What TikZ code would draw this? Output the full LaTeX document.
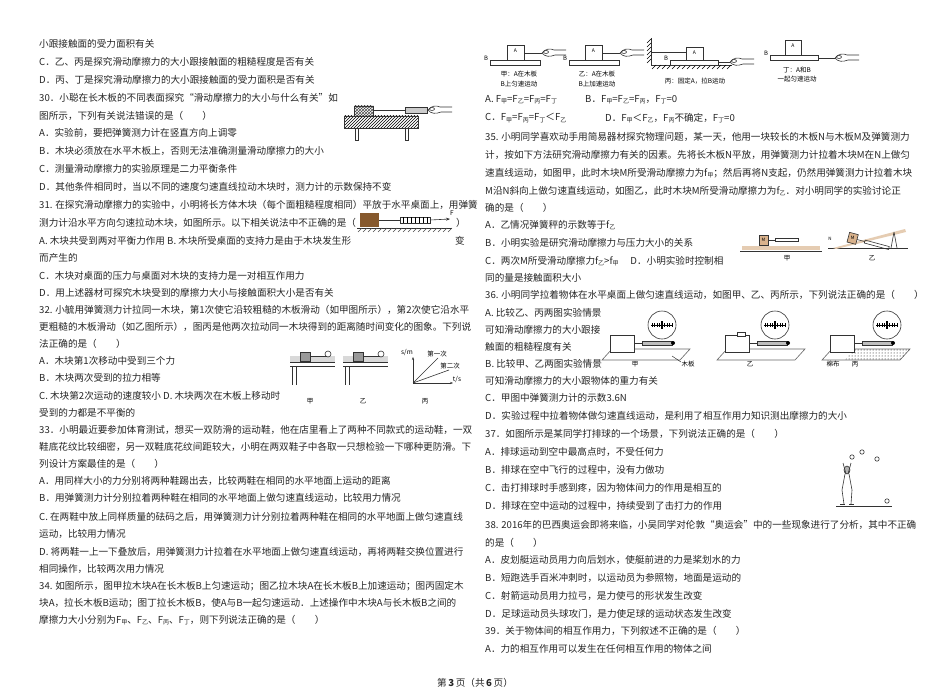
\documentclass[tikz,border=0pt]{standalone}
\usepackage{fontspec}
\setmainfont{Noto Sans CJK SC}
\usetikzlibrary{patterns,arrows.meta}
\newcommand\xs[1]{\raisebox{-0.25ex}{\fontsize{6}{6}\selectfont #1}}
\newcommand\Ln[3]{\node[tx] at (#1,#2) {#3};}
\tikzset{tx/.style={anchor=west,inner sep=0pt,font=\fontsize{9.6}{11}\selectfont,text=black!85},
 capt/.style={inner sep=0pt,font=\fontsize{6.5}{7}\selectfont},
 ln/.style={line width=0.6pt,black!80}}
\newcommand\hand[2]{\begin{scope}[shift={(#1,#2)},ln]
\draw (0,0) .. controls (3,-4) and (8,-5) .. (12,-3) -- (24,-3);
\draw (0,0) .. controls (3,4) and (8,4) .. (13,2) -- (24,2);
\draw (4,-1) ellipse (2.5 and 1.5);\end{scope}}
\begin{document}
\begin{tikzpicture}[x=1pt,y=-1pt]
\fill[white] (0,0) rectangle (950,698);
\useasboundingbox (0,0) rectangle (950,698);
% ---------- left column
\Ln{39}{44}{小跟接触面的受力面积有关}
\Ln{39}{62}{C．乙、丙是探究滑动摩擦力的大小跟接触面的粗糙程度是否有关}
\Ln{39}{80}{D．丙、丁是探究滑动摩擦力的大小跟接触面的受力面积是否有关}
\Ln{39}{98}{30．小聪在长木板的不同表面探究“滑动摩擦力的大小与什么有关”如}
\Ln{39}{116}{图所示，下列有关说法错误的是（　　）}
\Ln{39}{133}{A．实验前，要把弹簧测力计在竖直方向上调零}
\Ln{39}{151}{B．木块必须放在水平木板上，否则无法准确测量滑动摩擦力的大小}
\Ln{39}{169}{C．测量滑动摩擦力的实验原理是二力平衡条件}
\Ln{39}{187}{D．其他条件相同时，当以不同的速度匀速直线拉动木块时，测力计的示数保持不变}
\Ln{39}{205}{31. 在探究滑动摩擦力的实验中，小明将长方体木块（每个面粗糙程度相同）平放于水平桌面上，用弹簧}
\Ln{39}{223}{测力计沿水平方向匀速拉动木块，如图所示。以下相关说法中不正确的是（}
\Ln{456}{223}{）}
\Ln{39}{241}{A. 木块共受到两对平衡力作用 B. 木块所受桌面的支持力是由于木块发生形}
\Ln{455}{241}{变}
\Ln{39}{258}{而产生的}
\Ln{39}{276}{C．木块对桌面的压力与桌面对木块的支持力是一对相互作用力}
\Ln{39}{293}{D．用上述器材可探究木块受到的摩擦力大小与接触面积大小是否有关}
\Ln{39}{310}{32. 小毓用弹簧测力计拉同一木块，第1次使它沿较粗糙的木板滑动（如甲图所示），第2次使它沿水平}
\Ln{39}{327}{更粗糙的木板滑动（如乙图所示），图丙是他两次拉动同一木块得到的距离随时间变化的图象。下列说}
\Ln{39}{344}{法正确的是（　　）}
\Ln{39}{361}{A．木块第1次移动中受到三个力}
\Ln{39}{378}{B．木块两次受到的拉力相等}
\Ln{39}{396}{C. 木块第2次运动的速度较小 D. 木块两次在木板上移动时}
\Ln{39}{413}{受到的力都是不平衡的}
\Ln{39}{430}{33．小明最近要参加体育测试，想买一双防滑的运动鞋，他在店里看上了两种不同款式的运动鞋，一双}
\Ln{39}{447}{鞋底花纹比较细密，另一双鞋底花纹间距较大，小明在两双鞋子中各取一只想检验一下哪种更防滑。下}
\Ln{39}{464}{列设计方案最佳的是（　　）}
\Ln{39}{481}{A．用同样大小的力分别将两种鞋踢出去，比较两鞋在相同的水平地面上运动的距离}
\Ln{39}{498}{B．用弹簧测力计分别拉着两种鞋在相同的水平地面上做匀速直线运动，比较用力情况}
\Ln{39}{517}{C. 在两鞋中放上同样质量的砝码之后，用弹簧测力计分别拉着两种鞋在相同的水平地面上做匀速直线}
\Ln{39}{534}{运动，比较用力情况}
\Ln{39}{552}{D. 将两鞋一上一下叠放后，用弹簧测力计拉着在水平地面上做匀速直线运动，再将两鞋交换位置进行}
\Ln{39}{569}{相同操作，比较两次用力情况}
\Ln{39}{586}{34. 如图所示，图甲拉木块A在长木板B上匀速运动；图乙拉木块A在长木板B上加速运动；图丙固定木}
\Ln{39}{603}{块A，拉长木板B运动；图丁拉长木板B，使A与B一起匀速运动．上述操作中木块A与长木板B之间的}
\Ln{39}{620}{摩擦力大小分别为F\xs{甲}、F\xs{乙}、F\xs{丙}、F\xs{丁}，则下列说法正确的是（　　）}
% footer
\node[tx,anchor=center] (foot) at (475,683) {第\,\textbf{3}\,页（共\,\textbf{6}\,页）};
% ---------- fig 30
\fill[pattern=north east lines] (344,116) rectangle (418,128);
\draw[ln] (344,116) rectangle (418,128);
\fill[pattern=crosshatch,pattern color=black!70] (354,106) rectangle (373,116);
\draw[ln] (354,106) rectangle (373,116);
\draw[ln] (355,128) rectangle (358,140) (405,128) rectangle (408,140);
\draw[ln] (373,110) -- (405,110);
\draw[ln,fill=black!20] (405,107) rectangle (427,113);
\hand{428}{110}
% ---------- fig 31
\fill[brown!70!black] (360,213) rectangle (379,227);
\draw[ln] (357,228) -- (452,228);
\foreach \i in {0,...,18} \draw[black!70,line width=0.4pt] (358+5*\i,232) -- (362+5*\i,228);
\draw[ln] (379,220) -- (400,220);
\draw[ln] (400,217) rectangle (430,223);
\foreach \i in {0,...,6} \draw[line width=0.3pt] (403+4*\i,217) -- (403+4*\i,223);
\draw[ln,-{Stealth[length=4pt]}] (430,220) -- (450,219);
\node[capt,font=\itshape\fontsize{6.5}{7}\selectfont] (F31) at (452,213) {F};
% ---------- fig 32
\foreach \x/\t in {290/甲,343/乙}{
 \fill[black!15] (\x,356) rectangle (\x+45,362);
 \draw[ln] (\x,362) -- (\x+45,362) (\x,366) -- (\x+45,366) (\x+2,366) -- (\x+2,385) (\x+6,366) -- (\x+6,385);
 \draw[ln,fill=black!40] (\x+10,352) rectangle (\x+20,361);
 \draw[ln] (\x+20,356) -- (\x+37,356);
 \draw[ln] (\x+38,354) circle (3);
 \node[capt] at (\x+20,401) {\t};}
\draw[ln,-{Stealth[length=3pt]}] (413,383) -- (413,357);
\draw[ln,-{Stealth[length=3pt]}] (413,383) -- (453,383);
\draw[ln] (413,383) -- (438,358) (413,383) -- (449,370);
\node[capt] at (407,352) {s/m};
\node[capt] at (437,354) {第一次};
\node[capt] at (450,366) {第二次};
\node[capt] at (457,379) {t/s};
\node[capt] at (425,401) {丙};
% ---------- right column figures 34
\foreach \bx/\ax/\lab/\la/\lb in {490/507/甲/\textit{A}在木板/\textit{B}上匀速运动, 569/585/乙/\textit{A}在木板/\textit{B}上加速运动}{
 \draw[ln] (\bx,60) rectangle (\bx+50,65);
 \draw[ln] (\ax,45) rectangle (\ax+17,60);
 \node[capt,font=\itshape\fontsize{5}{5}\selectfont] at (\ax+8.5,51) {A};
 \node[capt,font=\itshape\fontsize{6}{6}\selectfont] at (\bx-4,58) {B};
 \draw[ln] (\ax+17,53) -- (\ax+35,53);
 \hand{\ax+35}{53}
 \node[capt] at (\ax+12,74) {\lab：\la};
 \node[capt] at (\ax+12,84) {\lb};}
% bing
\draw[ln] (651,38) -- (651,65) -- (732,65);
\foreach \i in {0,...,15} \draw[line width=0.4pt] (652+5*\i,69) -- (656+5*\i,65);
\foreach \i in {0,...,5} \draw[line width=0.4pt] (647,43+4*\i) -- (651,39+4*\i);
\draw[ln] (670,60) rectangle (718,65);
\draw[ln] (686,47) rectangle (703,60);
\node[capt,font=\itshape\fontsize{5}{5}\selectfont] at (694.5,53) {A};
\node[capt,font=\itshape\fontsize{6}{6}\selectfont] at (666,58) {B};
\draw[ln] (651,52) -- (686,52) (718,62) -- (730,62);
\hand{730}{62}
\node[capt] at (695,81) {丙：固定\textit{A}，拉\textit{B}运动};
% ding
\draw[ln] (770,55) rectangle (818,60);
\draw[ln] (785,40) rectangle (801,55);
\node[capt,font=\itshape\fontsize{5}{5}\selectfont] at (793,46) {A};
\node[capt,font=\itshape\fontsize{6}{6}\selectfont] at (766,53) {B};
\draw[ln] (818,58) -- (835,58);
\hand{835}{58}
\node[capt] at (797,70) {丁：\textit{A}和\textit{B}};
\node[capt] at (797,79) {一起匀速运动};
% ---------- right text
\Ln{485}{100}{A. F\xs{甲}=F\xs{乙}=F\xs{丙}=F\xs{丁}}
\Ln{585}{100}{B．F\xs{甲}=F\xs{乙}=F\xs{丙}，F\xs{丁}=0}
\Ln{485}{118}{C．F\xs{甲}=F\xs{丙}=F\xs{丁}＜F\xs{乙}}
\Ln{605}{118}{D．F\xs{甲}＜F\xs{乙}，F\xs{丙}不确定，F\xs{丁}=0}
\Ln{485}{137}{35. 小明同学喜欢动手用简易器材探究物理问题，某一天，他用一块较长的木板N与木板M及弹簧测力}
\Ln{485}{155}{计，按如下方法研究滑动摩擦力有关的因素。先将长木板N平放，用弹簧测力计拉着木块M在N上做匀}
\Ln{485}{173}{速直线运动，如图甲，此时木块M所受滑动摩擦力为f\xs{甲}；然后再将N支起，仍然用弹簧测力计拉着木块}
\Ln{485}{191}{M沿N斜向上做匀速直线运动，如图乙，此时木块M所受滑动摩擦力为f\xs{乙}．对小明同学的实验讨论正}
\Ln{485}{208}{确的是（　　）}
\Ln{485}{225}{A．乙情况弹簧秤的示数等于f\xs{乙}}
\Ln{485}{243}{B．小明实验是研究滑动摩擦力与压力大小的关系}
\Ln{485}{261}{C．两次M所受滑动摩擦力f\xs{乙}>f\xs{甲}　 D．小明实验时控制相}
\Ln{485}{278}{同的量是接触面积大小}
\Ln{485}{295}{36. 小明同学拉着物体在水平桌面上做匀速直线运动，如图甲、乙、丙所示，下列说法正确的是（　　）}
\Ln{485}{313}{A. 比较乙、丙两图实验情景}
\Ln{485}{330}{可知滑动摩擦力的大小跟接}
\Ln{485}{347}{触面的粗糙程度有关}
\Ln{485}{364}{B. 比较甲、乙两图实验情景}
\Ln{485}{381}{可知滑动摩擦力的大小跟物体的重力有关}
\Ln{485}{398}{C．甲图中弹簧测力计的示数3.6N}
\Ln{485}{416}{D．实验过程中拉着物体做匀速直线运动，是利用了相互作用力知识测出摩擦力的大小}
\Ln{485}{434}{37．如图所示是某同学打排球的一个场景，下列说法正确的是（　　）}
\Ln{485}{452}{A．排球运动到空中最高点时，不受任何力}
\Ln{485}{470}{B．排球在空中飞行的过程中，没有力做功}
\Ln{485}{488}{C．击打排球时手感到疼，因为物体间力的作用是相互的}
\Ln{485}{506}{D．排球在空中运动的过程中，持续受到了击打力的作用}
\Ln{485}{525}{38. 2016年的巴西奥运会即将来临，小吴同学对伦敦“奥运会”中的一些现象进行了分析，其中不正确}
\Ln{485}{543}{的是（　　）}
\Ln{485}{560}{A．皮划艇运动员用力向后划水，使艇前进的力是桨划水的力}
\Ln{485}{578}{B．短跑选手百米冲刺时，以运动员为参照物，地面是运动的}
\Ln{485}{596}{C．射箭运动员用力拉弓，是力使弓的形状发生改变}
\Ln{485}{614}{D．足球运动员头球攻门，是力使足球的运动状态发生改变}
\Ln{485}{631}{39．关于物体间的相互作用力，下列叙述不正确的是（　　）}
\Ln{485}{649}{A．力的相互作用可以发生在任何相互作用的物体之间}
% ---------- fig 35
\fill[brown!40] (742,246) rectangle (820,250);
\draw[ln] (740,251) -- (822,251);
\draw[ln,fill=brown!60] (759,235) rectangle (768,245);
\node[capt,font=\fontsize{4.5}{5}\selectfont] at (763.5,240) {M};
\draw[ln] (768,240) -- (775,240);
\draw[ln] (775,238.5) rectangle (798,241.5);
\node[capt] at (787,258) {甲};
\draw[ln] (828,248) -- (908,248);
\fill[brown!40] (833,248) -- (905,229) -- (906,232) -- (836,249) -- cycle;
\draw[ln] (894,232) -- (891,248) (894,232) -- (897,248);
\begin{scope}[shift={(847,242)},rotate=-15]
\draw[ln,fill=brown!60] (0,-10) rectangle (9,0);
\node[capt,font=\fontsize{4.5}{5}\selectfont] at (4.5,-5) {M};
\draw[ln] (9,-5) -- (17,-5);
\draw[ln] (17,-6.5) rectangle (42,-3.5);
\end{scope}
\node[capt,font=\fontsize{4.5}{5}\selectfont] at (830,239) {N};
\node[capt] at (872,258) {乙};
% ---------- fig 36
\foreach \x/\c/\lab in {610/662/甲, 725/775/乙, 830/887/丙}{
 \draw[ln,black!60] (\x-8,360) -- (\x+2,349) -- (\x+80,349) -- (\x+70,360) -- cycle;
 \draw[ln,fill=white] (\x,335) rectangle (\x+24,352);
 \draw[ln] (\x+24,343) -- (\x+32,343);
 \draw[ln,fill=black!25] (\x+32,341) rectangle (\x+62,345);
 \fill (\x+63,343) circle (2);
 \draw[ln,fill=white] (\c,325) circle (14);
 \draw[line width=0.4pt] (\c-11,325) -- (\c+11,325);
 \foreach \k in {-4,...,4} \draw[line width=0.3pt] (\c+2.5*\k,323) -- (\c+2.5*\k,327);
 \fill (\c-1,321) rectangle (\c+1,329);
 \node[capt] at (\x+25,364) {\lab};}
\draw[ln,fill=white] (737,332) rectangle (745,336);
\fill[pattern=dots] (855,349) -- (910,349) -- (900,360) -- (845,360) -- cycle;
\node[capt] at (688,364) {木板};
\draw[line width=0.4pt] (681,362) -- (672,356);
\node[capt] at (833,364) {棉布};
% ---------- fig 37
\draw[ln] (836,506) -- (892,506);
\draw[ln,fill=black!30] (847,470) ellipse (3 and 4);
\draw[ln] (845,474) -- (842,490) -- (844,504) (849,474) -- (852,490) -- (851,504);
\draw[ln] (846,474) -- (843,463) (848,474) -- (851,463);
\draw[ln] (840,504) -- (845,504) (849,504) -- (854,504);
\foreach \bx/\by in {852/457,862/452,877/459,887/501} \draw[ln,fill=white] (\bx,\by) circle (2.2);
\end{tikzpicture}
\end{document}
